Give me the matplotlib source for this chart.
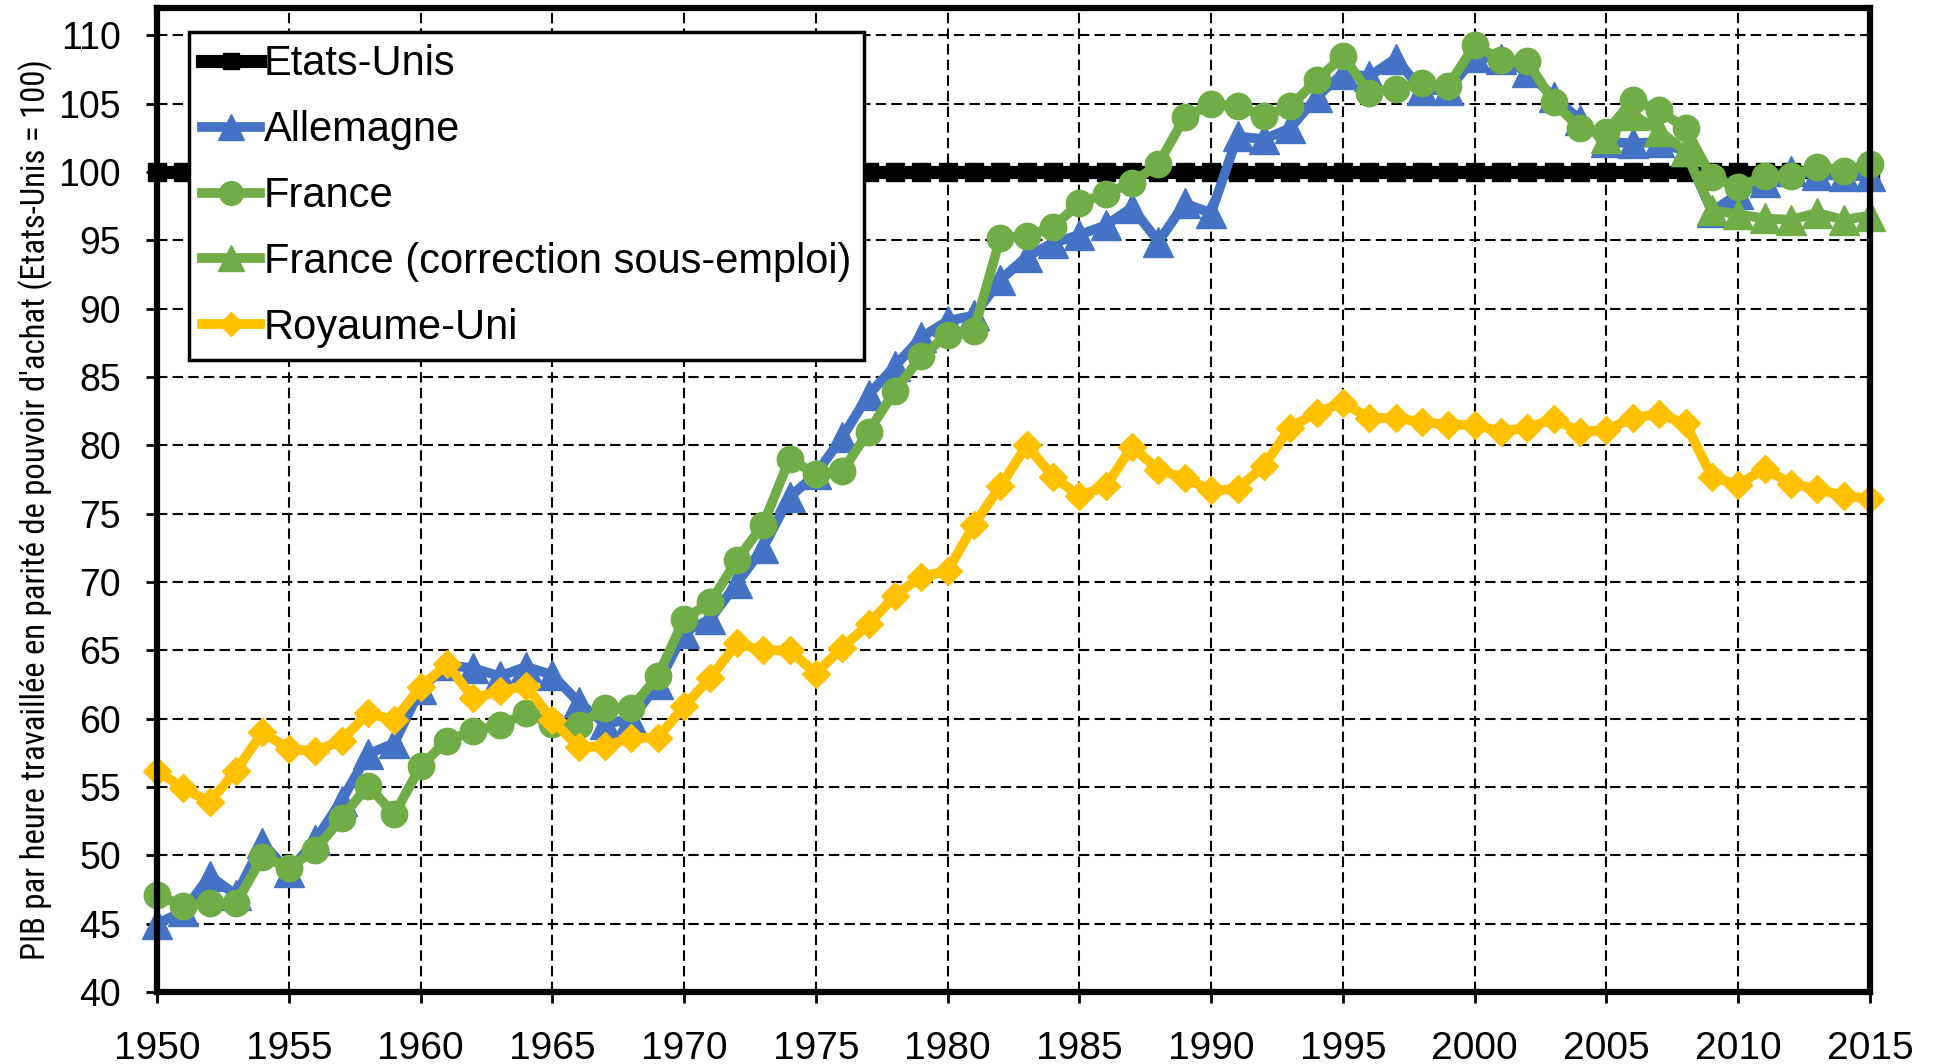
import numpy as np
import matplotlib
matplotlib.use("Agg")
import matplotlib.pyplot as plt
from matplotlib import font_manager

# Years and series (Etats-Unis = 100)
years = np.arange(1950, 2016)

etats_unis = [100.0] * len(years)

allemagne = [45.0, 45.9, 48.5, 47.1, 50.9,
             48.8, 51.1, 54.0, 57.4, 58.2,
             62.2, 63.9, 63.7, 63.1, 63.8,
             63.2, 61.2, 59.6, 60.0, 62.5,
             66.3, 67.3, 69.9, 72.5, 76.2,
             77.9, 80.6, 83.7, 85.8, 87.9,
             89.1, 89.5, 92.1, 93.8, 94.8,
             95.4, 96.1, 97.4, 94.9, 97.7,
             97.0, 102.6, 102.4, 103.2, 105.5,
             107.2, 107.0, 108.3, 106.0, 106.0,
             108.4, 108.3, 107.3, 105.5, 103.8,
             102.2, 102.1, 102.2, 101.5, 97.1,
             98.4, 99.3, 100.1, 99.8, 99.7,
             99.7]

france = [47.1, 46.3, 46.5, 46.5, 49.9,
          49.1, 50.4, 52.7, 55.1, 53.0,
          56.5, 58.4, 59.1, 59.5, 60.4,
          59.6, 59.5, 60.8, 60.8, 63.1,
          67.3, 68.5, 71.6, 74.2, 79.0,
          77.9, 78.1, 81.0, 84.0, 86.5,
          88.1, 88.4, 95.2, 95.3, 96.0,
          97.7, 98.4, 99.2, 100.6, 104.0,
          104.95, 104.8, 104.1, 104.8, 106.7,
          108.5, 105.8, 106.1, 106.5, 106.3,
          109.3, 108.2, 108.1, 105.1, 103.2,
          102.9, 105.3, 104.5, 103.2, 99.6,
          98.9, 99.7, 99.7, 100.4, 100.1,
          100.6]

# correction sous-emploi only from 2005
years_corr = np.arange(2005, 2016)
france_corr = [102.5, 104.2, 103.0, 101.5, 97.2,
               96.9, 96.6, 96.5, 97.0, 96.5,
               96.8]

royaume_uni = [56.2, 54.9, 53.9, 56.2, 59.0,
               57.8, 57.6, 58.4, 60.4, 59.9,
               62.3, 64.0, 61.5, 62.0, 62.4,
               59.9, 57.9, 58.0, 58.6, 58.6,
               60.9, 63.0, 65.5, 65.0, 65.0,
               63.3, 65.2, 66.9, 69.0, 70.4,
               70.8, 74.2, 77.0, 80.0, 77.7,
               76.3, 77.0, 79.9, 78.2, 77.6,
               76.7, 76.8, 78.5, 81.3, 82.4,
               83.1, 82.0, 82.0, 81.7, 81.5,
               81.5, 81.0, 81.3, 81.9, 81.0,
               81.1, 82.0, 82.3, 81.6, 77.7,
               77.1, 78.3, 77.2, 76.8, 76.3,
               76.1]

plt.rcParams['font.family'] = ['Liberation Sans', 'DejaVu Sans']

# narrow (upright, regular) font for the y label if one is installed
narrow = None
for f in font_manager.fontManager.ttflist:
    if f.name in ('Liberation Sans Narrow', 'Arial Narrow', 'Roboto Condensed') \
            and f.style == 'normal' and f.weight in (400, 'normal', 'regular'):
        narrow = f.fname
        break

fig = plt.figure(figsize=(19.39, 10.64), dpi=100)
ax = fig.add_axes([0.081, 0.0677, 0.8834, 0.9248])

lw = 7
ax.plot(years, etats_unis, color='black', lw=9.5, marker='s', ms=13.5,
        label='Etats-Unis', clip_on=False, zorder=3)
ax.plot(years, allemagne, color='#4472C4', lw=lw, marker='^', ms=21,
        label='Allemagne', clip_on=False, zorder=4)
ax.plot(years, france, color='#70AD47', lw=lw, marker='o', ms=19,
        label='France', clip_on=False, zorder=5)
ax.plot(years_corr, france_corr, color='#70AD47', lw=lw, marker='^', ms=21,
        label='France (correction sous-emploi)', clip_on=False, zorder=6)
ax.plot(years, royaume_uni, color='#FFC000', lw=lw, marker='D', ms=14,
        label='Royaume-Uni', clip_on=False, zorder=7)

ax.set_xlim(1950, 2015)
ax.set_ylim(40, 112)
ax.set_xticks(np.arange(1950, 2016, 5))
ax.set_yticks(np.arange(40, 111, 5))

ax.grid(True, color='black', linestyle=(0, (5, 2.5)), lw=1.5, zorder=1)
ax.set_axisbelow(True)

for side in ['left', 'bottom', 'top', 'right']:
    ax.spines[side].set_linewidth(4.5)
    ax.spines[side].set_zorder(8)

ax.tick_params(axis='both', direction='out', length=8, width=2)
ax.tick_params(axis='x', labelsize=28, pad=20)
ax.tick_params(axis='y', labelsize=27, pad=18)

ylab = "PIB par heure travaillée en parité de pouvoir d'achat (Etats-Unis = 100)"
if narrow is not None:
    ax.set_ylabel(ylab, fontproperties=font_manager.FontProperties(fname=narrow, size=23.5))
else:
    ax.set_ylabel(ylab, fontsize=21)
ax.yaxis.set_label_coords(-0.061, 0.49)

leg = ax.legend(loc='upper left', bbox_to_anchor=(0.0187, 0.9756),
                borderaxespad=0, fontsize=30, frameon=True, fancybox=False,
                edgecolor='black', framealpha=1, handlelength=1.4,
                handletextpad=0.1, labelspacing=0.62, borderpad=0.3,
                markerscale=0.9)
leg.get_frame().set_linewidth(2.5)
leg.set_zorder(10)

fig.savefig('out.png', dpi=100)
